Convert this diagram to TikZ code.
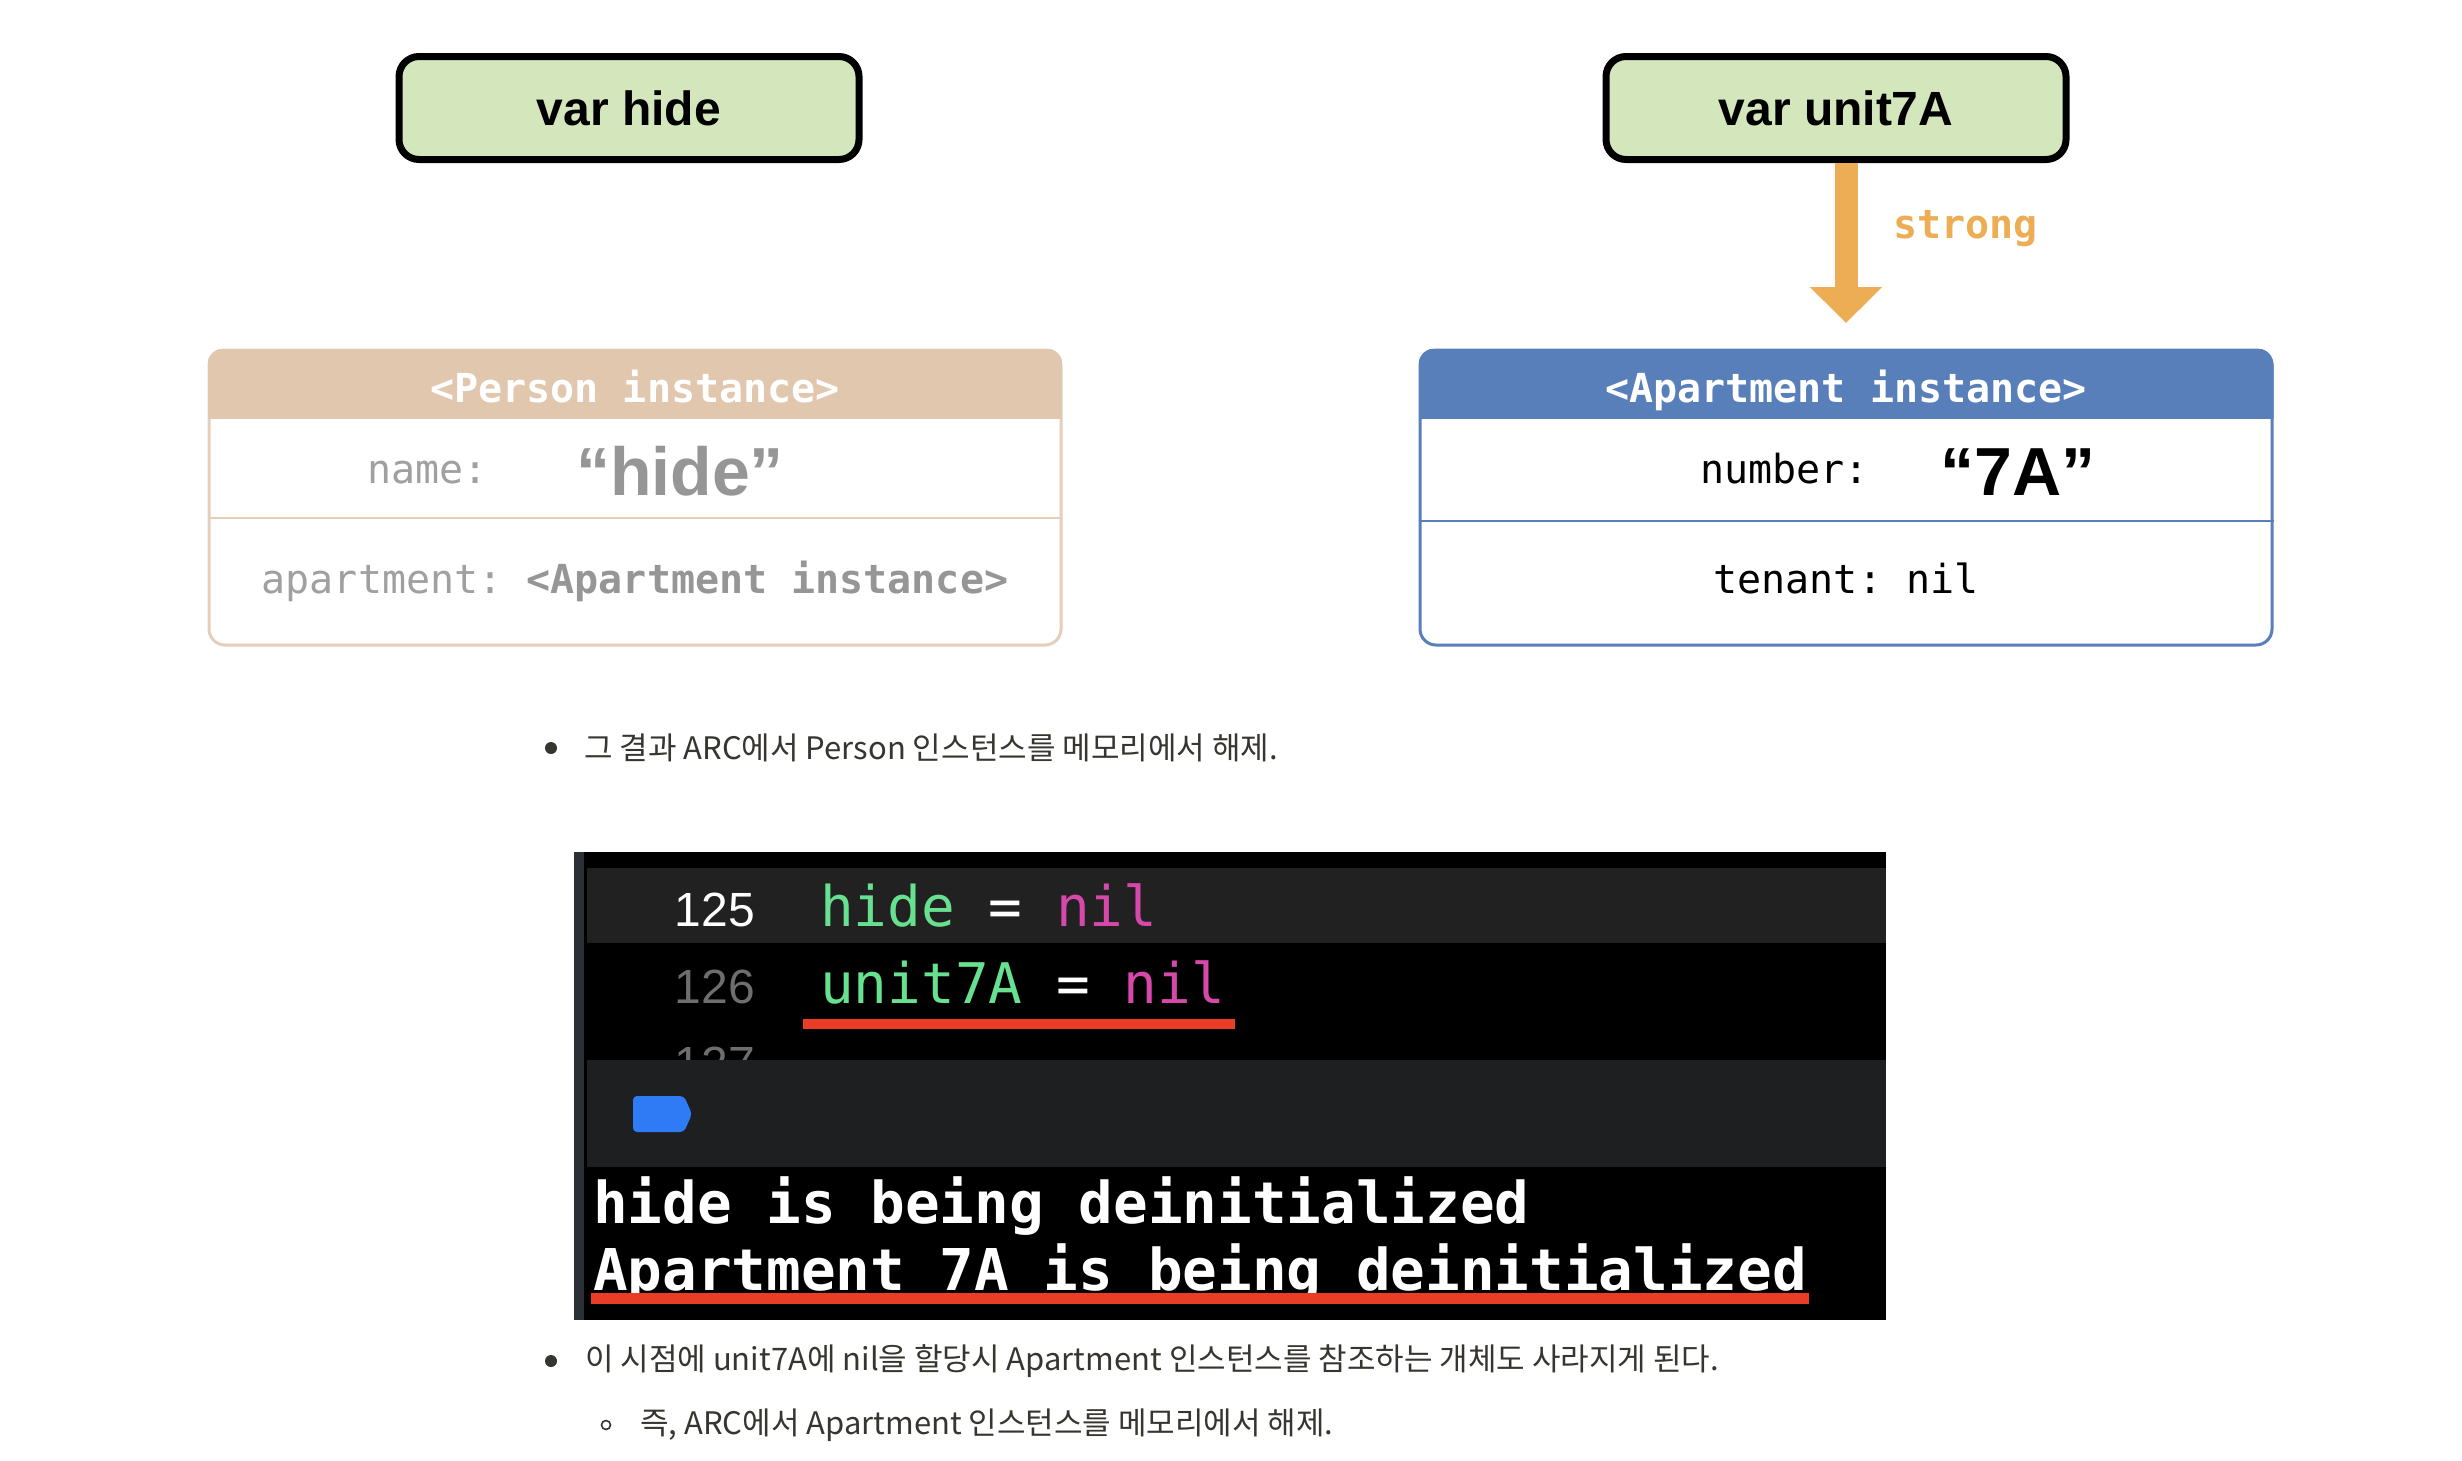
\documentclass[tikz,border=0pt]{standalone}
\usepackage{fontspec}
\usepackage{xcolor}
\usepackage{tikz}
\usetikzlibrary{positioning,arrows.meta}
\setmonofont{DejaVu Sans Mono}
\newfontfamily\labelsans{Liberation Sans}
\newfontfamily\krfont{Noto Sans CJK KR}
\definecolor{vargreen}{RGB}{211,230,188}
\definecolor{personfill}{RGB}{224,199,173}
\definecolor{personline}{RGB}{230,207,186}
\definecolor{aptblue}{RGB}{89,127,186}
\definecolor{fieldgrey}{RGB}{160,160,160}
\definecolor{valuegrey}{RGB}{150,150,150}
\definecolor{strongorange}{RGB}{236,173,84}
\definecolor{rowgrey}{RGB}{33,33,33}
\definecolor{panelgrey}{RGB}{30,31,33}
\definecolor{stripslate}{RGB}{42,48,54}
\definecolor{idgreen}{RGB}{103,224,143}
\definecolor{nilpink}{RGB}{214,72,170}
\definecolor{numgrey}{RGB}{110,110,110}
\definecolor{tagblue}{RGB}{47,123,246}
\definecolor{underred}{RGB}{233,62,37}
\definecolor{bodygrey}{RGB}{55,53,47}

\tikzset{
  varbox/.style={draw=black, line width=7pt, fill=vargreen, rounded corners=20pt,
    minimum width=460pt, minimum height=103pt,
    font=\labelsans\bfseries\fontsize{48}{56}\selectfont},
  instbox/.style={draw=#1, fill=white, line width=3pt, rounded corners=16pt,
    minimum width=852pt, minimum height=295pt},
  headtext/.style={text=white, inner sep=0pt, anchor=base,
    font=\ttfamily\bfseries\fontsize{40}{48}\selectfont},
  fieldtext/.style={inner sep=0pt, font=\ttfamily\fontsize{40}{48}\selectfont},
  valuetext/.style={inner sep=0pt, anchor=base,
    font=\labelsans\bfseries\fontsize{68}{80}\selectfont},
  strongarrow/.style={draw=strongorange, line width=23pt, shorten >=25.5pt,
    -{Triangle[width=70pt,length=36pt]}},
  linenum/.style={inner sep=0pt, anchor=base east,
    font=\labelsans\fontsize{48}{56}\selectfont},
  codetext/.style={inner sep=0pt, anchor=base west,
    font=\ttfamily\fontsize{56}{64}\selectfont},
  consoletext/.style={inner sep=0pt, anchor=base west, text=white,
    font=\ttfamily\bfseries\fontsize{57.6}{64}\selectfont},
  underline/.style={draw=underred, line width=10pt},
  bodytext/.style={inner sep=0pt, anchor=west, text=bodygrey,
    font=\krfont\fontsize{31}{37}\selectfont},
  dotbullet/.style={circle, fill=bodygrey, inner sep=0pt, minimum size=12pt},
  ringbullet/.style={circle, draw=bodygrey, line width=1.6pt, inner sep=0pt,
    minimum size=9pt}
}

\begin{document}
\begin{tikzpicture}[x=1pt, y=-1pt]
  \useasboundingbox[fill=white] (0,0) rectangle (2462,1460);

  % variables
  \node[varbox] (hide) at (629,108) {var hide};
  \node[varbox] (unit7A) at (1836,108) {var unit7A};

  % instances
  \node[instbox=personline] (person) at (635,497.5) {};
  \node[instbox=aptblue] (apt) at (1846,497.5) {};
  \coordinate (headcut) at (0,419);
  \coordinate (personrow) at (0,518);
  \coordinate (aptrow) at (0,521);
  \begin{scope}
    \clip[rounded corners=16pt] (person.north west) rectangle (person.south east);
    \fill[personfill] (person.north west) rectangle (person.east |- headcut);
  \end{scope}
  \begin{scope}
    \clip[rounded corners=16pt] (apt.north west) rectangle (apt.south east);
    \fill[aptblue] (apt.north west) rectangle (apt.east |- headcut);
  \end{scope}
  \draw[personline, line width=2pt] (person.west |- personrow) -- (person.east |- personrow);
  \draw[aptblue, line width=2.5pt] (apt.west |- aptrow) -- (apt.east |- aptrow);

  \node[headtext] (personhead) at (635,402) {<Person instance>};
  \node[fieldtext, text=fieldgrey, anchor=base west] (pname) at (367,483) {name:};
  \node[valuetext, text=valuegrey] (pnameval) at (680,495) {“hide”};
  \node[fieldtext, anchor=base] (papt) at (635,593)
    {\color{fieldgrey}apartment: \color{valuegrey}\bfseries<Apartment instance>};

  \node[headtext] (apthead) at (1846,402) {<Apartment instance>};
  \node[fieldtext, anchor=base west] (anum) at (1700,483) {number:};
  \node[valuetext] (anumval) at (2018,495) {“7A”};
  \node[fieldtext, anchor=base] (atenant) at (1846,593) {tenant: nil};

  \draw[strongarrow] (unit7A.south -| apt.north) -- (apt.north);
  \node[inner sep=0pt, anchor=base west, text=strongorange,
        font=\ttfamily\bfseries\fontsize{40}{48}\selectfont] (strong) at (1893,238) {strong};

  % bullets
  \node[dotbullet] (dot1) at (551,748) {};
  \node[bodytext] (line1) at (584,748) {그 결과 ARC에서 Person 인스턴스를 메모리에서 해제.};

  % code screenshot
  \fill[black] (574,852) rectangle (1886,1320);
  \fill[stripslate] (574,852) rectangle (584,1320);
  \fill[rowgrey] (587,868) rectangle (1886,943);
  \node[linenum, text=white] (n125) at (755,926) {125};
  \node[codetext] (code125) at (820,926)
    {\color{idgreen}hide \color{white}= \color{nilpink}nil};
  \node[linenum, text=numgrey] (n126) at (755,1003) {126};
  \node[codetext] (code126) at (820,1003)
    {\color{idgreen}unit7A \color{white}= \color{nilpink}nil};
  \node[linenum, text=numgrey] (n127) at (755,1080) {127};
  \fill[panelgrey] (587,1060) rectangle (1886,1167);
  \fill[tagblue, rounded corners=4pt] (633,1096) -- (684,1096) -- (692,1114)
    -- (684,1132) -- (633,1132) -- cycle;
  \node[consoletext] (out1) at (593,1223) {hide is being deinitialized};
  \node[consoletext] (out2) at (593,1290) {Apartment 7A is being deinitialized};
  \draw[underline] ([xshift=-17pt, yshift=-21pt]code126.base west)
    -- ([xshift=10pt, yshift=-21pt]code126.base east);
  \draw[underline, line width=11pt] ([xshift=-2pt, yshift=-8pt]out2.base west)
    -- ([xshift=2pt, yshift=-8pt]out2.base east);

  \node[dotbullet] (dot2) at (551,1361) {};
  \node[bodytext] (line2) at (585,1361)
    {이 시점에 unit7A에 nil을 할당시 Apartment 인스턴스를 참조하는 개체도 사라지게 된다.};
  \node[ringbullet] (ring3) at (606,1425) {};
  \node[bodytext] (line3) at (640,1425) {즉, ARC에서 Apartment 인스턴스를 메모리에서 해제.};
\end{tikzpicture}
\end{document}
